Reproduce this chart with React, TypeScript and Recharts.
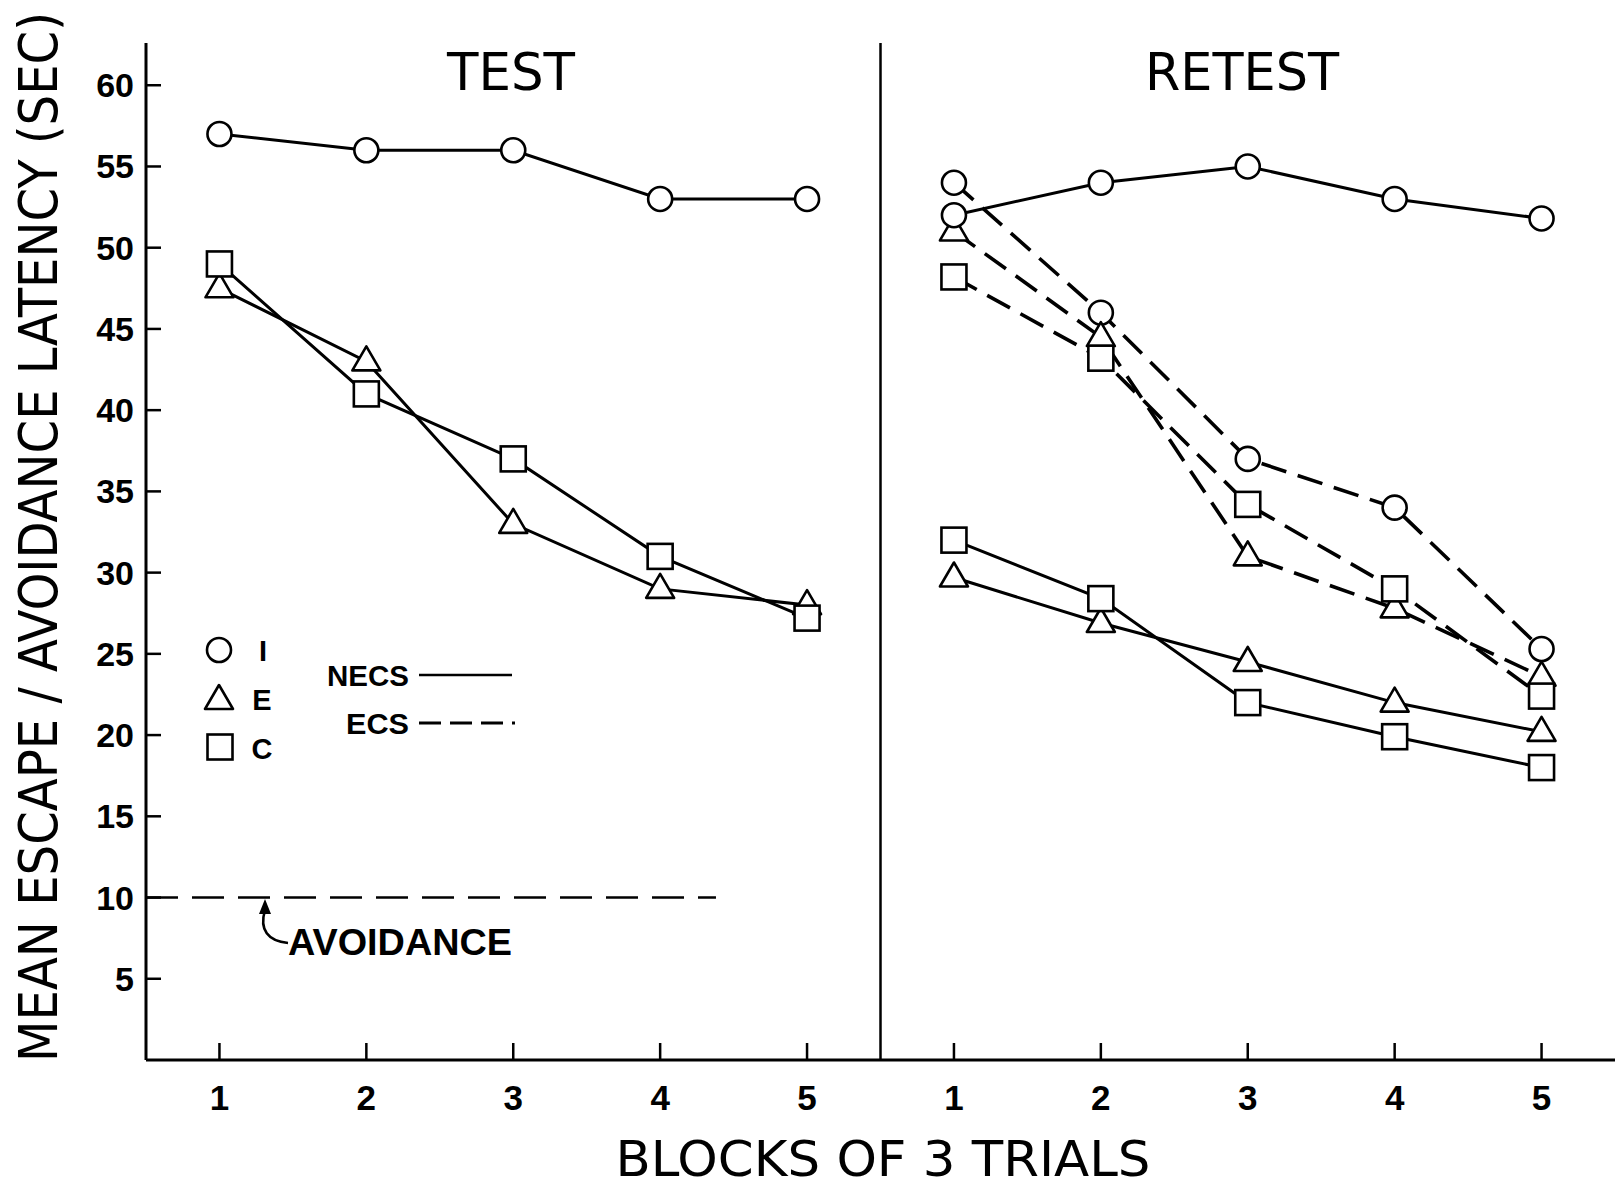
import React from 'react';
import { LineChart, Line, XAxis, YAxis, ReferenceLine } from 'recharts';

// ---- data ----
const blocks = [1, 2, 3, 4, 5];
const xTickLabels = ['1', '2', '3', '4', '5', '1', '2', '3', '4', '5'];
const yTicks = [5, 10, 15, 20, 25, 30, 35, 40, 45, 50, 55, 60];

// TEST phase
const testI = [57, 56, 56, 53, 53];
const testE = [47.5, 43, 33, 29, 28];
const testC = [49, 41, 37, 31, 27.2];

// RETEST phase, NECS (solid)
const retestNecsI = [52, 54, 55, 53, 51.8];
const retestNecsE = [29.7, 26.9, 24.5, 22, 20.2];
const retestNecsC = [32, 28.4, 22, 19.9, 18];

// RETEST phase, ECS (dashed)
const retestEcsI = [54, 46, 37, 34, 25.3];
const retestEcsE = [51, 44.5, 31, 27.8, 23.6];
const retestEcsC = [48.2, 43.2, 34.2, 29, 22.4];

const avoidanceLevel = 10;
const avoidanceSpan = [0.5, 4.38];
const dividerX = 5.5;
const retestOffset = 5;

const W = 1615;
const H = 1189;
const FONT = "'DejaVu Sans Condensed', 'DejaVu Sans', sans-serif";
const BOLD = "'Liberation Sans', Arial, sans-serif";

const toPts = (vals: number[], offset: number) =>
  vals.map((v, i) => ({ x: blocks[i] + offset, y: v }));

type Shape = 'circle' | 'triangle' | 'square';

function Marker({ cx, cy, shape }: { cx?: number; cy?: number; shape: Shape }) {
  if (cx == null || cy == null) return null;
  const common = { fill: '#fff', stroke: '#000', strokeWidth: 2.6 };
  if (shape === 'circle') return <circle cx={cx} cy={cy} r={12} {...common} />;
  if (shape === 'square')
    return <rect x={cx - 12.5} y={cy - 12.5} width={25} height={25} {...common} />;
  return (
    <path
      d={`M ${cx} ${cy - 15} L ${cx + 14} ${cy + 9} L ${cx - 14} ${cy + 9} Z`}
      {...common}
      strokeLinejoin="round"
    />
  );
}

const dotFor = (shape: Shape) => (p: any) =>
  <Marker key={`${shape}-${p.index}-${p.cx}`} cx={p.cx} cy={p.cy} shape={shape} />;

function YTick(props: any) {
  const { x, y, payload } = props;
  return (
    <g>
      <line x1={x + 12} x2={x + 27} y1={y} y2={y} stroke="#000" strokeWidth={2.5} />
      <text
        x={x}
        y={y + 12}
        textAnchor="end"
        fontFamily={BOLD}
        fontWeight="bold"
        fontSize={34}
        fill="#000"
      >
        {payload.value}
      </text>
    </g>
  );
}

function XTick(props: any) {
  const { x, y, payload, index } = props;
  return (
    <g>
      <line x1={x} x2={x} y1={y} y2={y - 17} stroke="#000" strokeWidth={2.5} />
      <text
        x={x}
        y={y + 50}
        textAnchor="middle"
        fontFamily={BOLD}
        fontWeight="bold"
        fontSize={35}
        fill="#000"
      >
        {xTickLabels[index] ?? payload.value}
      </text>
    </g>
  );
}

const SOLID = 3;
const DASHW = 3.6;
const DASH = '26 12';

export default function App() {
  const series = [
    { key: 'tI', data: toPts(testI, 0), shape: 'circle' as Shape, dashed: false },
    { key: 'tE', data: toPts(testE, 0), shape: 'triangle' as Shape, dashed: false },
    { key: 'tC', data: toPts(testC, 0), shape: 'square' as Shape, dashed: false },
    { key: 'reI', data: toPts(retestEcsI, retestOffset), shape: 'circle' as Shape, dashed: true },
    { key: 'reE', data: toPts(retestEcsE, retestOffset), shape: 'triangle' as Shape, dashed: true },
    { key: 'reC', data: toPts(retestEcsC, retestOffset), shape: 'square' as Shape, dashed: true },
    { key: 'rnI', data: toPts(retestNecsI, retestOffset), shape: 'circle' as Shape, dashed: false },
    { key: 'rnE', data: toPts(retestNecsE, retestOffset), shape: 'triangle' as Shape, dashed: false },
    { key: 'rnC', data: toPts(retestNecsC, retestOffset), shape: 'square' as Shape, dashed: false },
  ];
  const avoidData = avoidanceSpan.map((x) => ({ x, y: avoidanceLevel }));

  return (
    <div style={{ position: 'absolute', left: 0, top: 0, width: W, height: H, background: '#fff' }}>
      <LineChart width={W} height={H} margin={{ top: 43, right: 0, bottom: 0, left: 0 }}>
        <XAxis
          type="number"
          dataKey="x"
          domain={[0.5, 10.5]}
          ticks={[1, 2, 3, 4, 5, 6, 7, 8, 9, 10]}
          interval={0}
          allowDataOverflow
          height={129}
          tickSize={0}
          tickMargin={0}
          tickLine={false}
          axisLine={{ stroke: '#000', strokeWidth: 3 }}
          tick={<XTick />}
        />
        <YAxis
          type="number"
          domain={[0, 62.6]}
          ticks={yTicks}
          interval={0}
          allowDataOverflow
          width={146}
          tickSize={0}
          tickMargin={12}
          tickLine={false}
          axisLine={{ stroke: '#000', strokeWidth: 3 }}
          tick={<YTick />}
        />
        <ReferenceLine x={dividerX} stroke="#000" strokeWidth={2.5} ifOverflow="extendDomain" />
        <Line
          data={avoidData}
          dataKey="y"
          stroke="#000"
          strokeWidth={2.6}
          strokeDasharray="32 14"
          dot={false}
          activeDot={false}
          isAnimationActive={false}
        />
        {series.map((s) => (
          <Line
            key={s.key}
            data={s.data}
            dataKey="y"
            type="linear"
            stroke="#000"
            strokeWidth={s.dashed ? DASHW : SOLID}
            strokeDasharray={s.dashed ? DASH : undefined}
            dot={dotFor(s.shape)}
            activeDot={false}
            isAnimationActive={false}
          />
        ))}
      </LineChart>

      <svg
        width={W}
        height={H}
        style={{ position: 'absolute', left: 0, top: 0, pointerEvents: 'none' }}
      >
        {/* panel titles */}
        <text x={511} y={90} textAnchor="middle" fontFamily={FONT} fontSize={52} textLength={128} lengthAdjust="spacingAndGlyphs">
          TEST
        </text>
        <text x={1242} y={90} textAnchor="middle" fontFamily={FONT} fontSize={52} textLength={194} lengthAdjust="spacingAndGlyphs">
          RETEST
        </text>
        {/* axis titles */}
        <text x={883} y={1176} textAnchor="middle" fontFamily={FONT} fontSize={50} textLength={535} lengthAdjust="spacingAndGlyphs">
          BLOCKS OF 3 TRIALS
        </text>
        <text
          transform="translate(57, 537) rotate(-90)"
          x={0}
          y={0}
          textAnchor="middle"
          fontFamily={FONT}
          fontSize={53}
          textLength={1050}
          lengthAdjust="spacingAndGlyphs"
        >
          MEAN ESCAPE / AVOIDANCE LATENCY (SEC)
        </text>

        {/* legend: groups */}
        <Marker cx={219} cy={650} shape="circle" />
        <Marker cx={219} cy={700} shape="triangle" />
        <Marker cx={220} cy={747} shape="square" />
        <text x={263} y={661} textAnchor="middle" fontFamily={BOLD} fontWeight="bold" fontSize={29}>I</text>
        <text x={262} y={710} textAnchor="middle" fontFamily={BOLD} fontWeight="bold" fontSize={29}>E</text>
        <text x={262} y={759} textAnchor="middle" fontFamily={BOLD} fontWeight="bold" fontSize={29}>C</text>

        {/* legend: line styles */}
        <text x={409} y={686} textAnchor="end" fontFamily={BOLD} fontWeight="bold" fontSize={29} textLength={82} lengthAdjust="spacingAndGlyphs">NECS</text>
        <line x1={419} x2={512} y1={675} y2={675} stroke="#000" strokeWidth={2.5} />
        <text x={409} y={734} textAnchor="end" fontFamily={BOLD} fontWeight="bold" fontSize={29} textLength={63} lengthAdjust="spacingAndGlyphs">ECS</text>
        <line x1={419} x2={515} y1={723} y2={723} stroke="#000" strokeWidth={2.8} strokeDasharray="22 9" />

        {/* avoidance annotation */}
        <path d="M 265 910 C 259 930, 268 941, 288 943" fill="none" stroke="#000" strokeWidth={2.6} />
        <path d="M 265 899 L 259 914 L 271 914 Z" fill="#000" />
        <text x={288} y={955} fontFamily={BOLD} fontWeight="bold" fontSize={36} textLength={224} lengthAdjust="spacingAndGlyphs">
          AVOIDANCE
        </text>
      </svg>
    </div>
  );
}
